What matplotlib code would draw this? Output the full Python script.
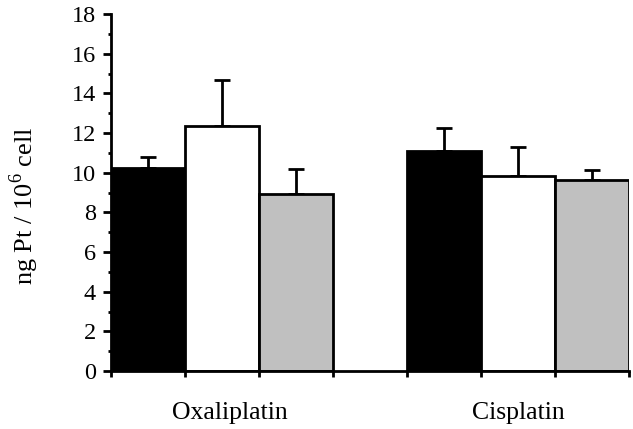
import matplotlib
matplotlib.use("Agg")
import matplotlib.pyplot as plt

# values
drugs = ["Oxaliplatin", "Cisplatin"]
black_vals = [10.25, 11.1]
white_vals = [12.35, 9.85]
gray_vals = [8.95, 9.65]
black_err = [0.55, 1.15]
white_err = [2.35, 1.45]
gray_err = [1.25, 0.5]

plt.rcParams['font.family'] = ['Liberation Serif', 'DejaVu Serif']
plt.rcParams['mathtext.fontset'] = 'custom'
plt.rcParams['mathtext.rm'] = 'Liberation Serif'

fig = plt.figure(figsize=(6.33, 4.29), dpi=100)
ax = fig.add_axes([0.1754, 0.1352, 0.8183, 0.8318])

colors = ["black", "white", "#c0c0c0"]
series = [black_vals, white_vals, gray_vals]
errs = [black_err, white_err, gray_err]
for g in range(len(drugs)):
    for s in range(3):
        x = g * 4 + s + 0.5
        ax.bar(x, series[s][g], width=1.0, color=colors[s], edgecolor="black",
               linewidth=2, zorder=2)
        ax.errorbar(x, series[s][g], yerr=[[0], [errs[s][g]]], fmt="none",
                    ecolor="black", elinewidth=2, capsize=5.5, capthick=2, zorder=1)

ax.set_xlim(0, 7)
ax.set_ylim(0, 18)
ax.set_yticks(range(0, 19, 2))
ax.set_yticks(range(1, 18, 2), minor=True)
ax.set_xticks(range(0, 8))
ax.set_xticklabels([])
# group labels sit a little off the group centres in the original
ax.set_xticks([1.6, 5.5], minor=True)
ax.set_xticklabels(drugs, minor=True, fontsize=18.5)
ax.tick_params(axis="x", which="major", direction="out", length=4, width=2)
ax.tick_params(axis="x", which="minor", length=0, pad=22)
ax.tick_params(axis="y", which="major", direction="out", length=6, width=2,
               labelsize=17.5, pad=5)
ax.tick_params(axis="y", which="minor", direction="out", length=2.5, width=2)

for side in ["top", "right"]:
    ax.spines[side].set_visible(False)
for side in ["left", "bottom"]:
    ax.spines[side].set_linewidth(2)

ax.set_ylabel("ng Pt / 10$^{\\mathrm{6}}$ cell", fontsize=19)
ax.yaxis.set_label_coords(-0.135, 0.464)

fig.savefig("out.png", dpi=100)
